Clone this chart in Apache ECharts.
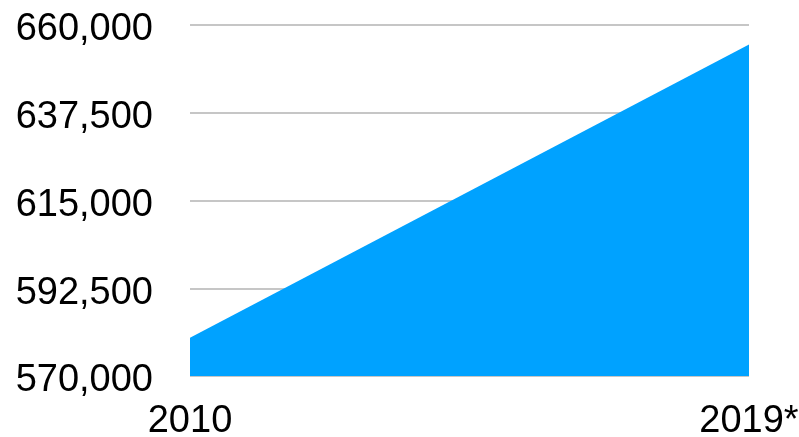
<!DOCTYPE html>
<html>
<head>
<meta charset="utf-8">
<script src="https://cdn.jsdelivr.net/npm/echarts@6/dist/echarts.min.js"></script>
<style>
html,body{margin:0;padding:0;background:#fff;}
#c{width:799px;height:437px;}
</style>
</head>
<body>
<div id="c"></div>
<script>
const categories = ['2010', '2019*'];
const values = [579800, 655000];
const yTicks = { min: 570000, max: 660000, interval: 22500 };

const chart = echarts.init(document.getElementById('c'), null, { renderer: 'canvas' });
chart.setOption({
  animation: false,
  backgroundColor: '#ffffff',
  grid: { left: 190, right: 50, top: 25, bottom: 61, containLabel: false, outerBoundsMode: 'none' },
  xAxis: {
    type: 'category',
    data: categories,
    boundaryGap: false,
    axisLine: { show: false },
    axisTick: { show: false },
    axisLabel: { fontFamily: 'Liberation Sans', fontSize: 38, color: '#000', margin: 27 },
    splitLine: { show: false }
  },
  yAxis: {
    type: 'value',
    min: yTicks.min,
    max: yTicks.max,
    interval: yTicks.interval,
    axisLine: { show: false },
    axisTick: { show: false },
    axisLabel: {
      color: '#000', margin: 37,
      formatter: v => '{a|' + v.toLocaleString('en-US') + '}',
      rich: {
        a: { fontFamily: 'Liberation Sans', fontSize: 38, color: '#000', padding: [10, 0, 0, 0] }
      }
    },
    splitLine: { lineStyle: { color: '#b3b3b3', width: 1.5 } }
  },
  series: [{
    type: 'line',
    data: values,
    symbol: 'none',
    lineStyle: { width: 0 },
    areaStyle: { color: '#00a2ff', opacity: 1 },
    z: 3
  }]
});
</script>
</body>
</html>
